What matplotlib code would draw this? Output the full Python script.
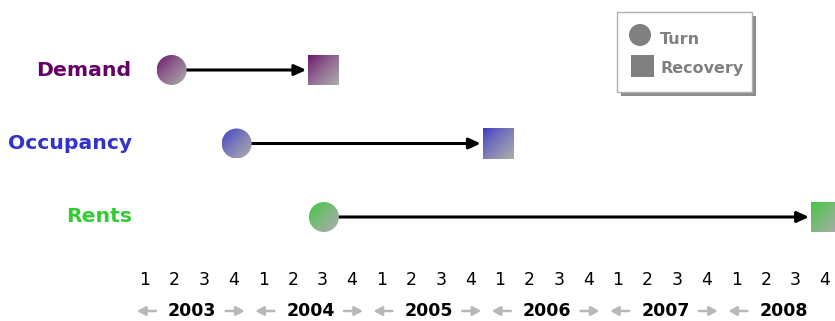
import numpy as np
import matplotlib
matplotlib.use("Agg")
import matplotlib.pyplot as plt
from matplotlib.patches import Ellipse, Rectangle
from matplotlib.colors import to_rgb

# Indicators and their turn / recovery points, in quarters from 2003 Q1
indicators = ["Demand", "Occupancy", "Rents"]
turn_q = [0.9, 3.1, 6.05]
recovery_q = [6.05, 11.95, 23.05]
colors = ["#660066", "#3333cc", "#33cc33"]

years = ["2003", "2004", "2005", "2006", "2007", "2008"]
quarters = ["1", "2", "3", "4"]

# Canvas geometry (pixels)
W, H = 835, 321
QPX = 29.57        # pixels per quarter
X0 = 145.0         # pixel position of 2003 Q1
ROW0, ROWPX = 70.0, 73.5   # pixel of first row, pixels per row

fig = plt.figure(figsize=(W / 100., H / 100.), dpi=100)
ax = fig.add_axes([0, 0, 1, 1])
ax.axis('off')
xlim = (-X0 / QPX, (W - X0) / QPX)
ylim = ((H - ROW0) / ROWPX, -ROW0 / ROWPX)


def gradient(color, n=64):
    # diagonal blend: colour at top-left, light grey at bottom-right
    c0 = np.array(to_rgb(color))
    c1 = np.array(to_rgb("#acacac"))
    t = np.add.outer(np.linspace(0, 1, n), np.linspace(0, 1, n)) / 2.0
    t = t ** 0.7
    return c0[None, None, :] * (1 - t[..., None]) + c1[None, None, :] * t[..., None]


def marker(x, y, color, shape, size_px):
    hx = size_px / 2.0 / QPX
    hy = size_px / 2.0 / ROWPX
    im = ax.imshow(gradient(color), extent=(x - hx, x + hx, y + hy, y - hy),
                   origin='upper', aspect='auto', interpolation='bilinear', zorder=3)
    if shape == 'circle':
        clip = Ellipse((x, y), 2 * hx, 2 * hy, transform=ax.transData)
    else:
        clip = Rectangle((x - hx, y - hy), 2 * hx, 2 * hy, transform=ax.transData)
    im.set_clip_path(clip)
    return hx


for r, (name, tq, rq, c) in enumerate(zip(indicators, turn_q, recovery_q, colors)):
    ax.text(-0.45, r, name, ha='right', va='center', color=c,
            fontsize=14.7, fontweight='bold', family='DejaVu Sans')
    marker(tq, r, c, 'circle', 30)
    hs = marker(rq, r, c, 'square', 31)
    ax.annotate("", xy=(rq - hs, r), xytext=(tq, r),
                arrowprops=dict(arrowstyle='-|>,head_length=0.7,head_width=0.32',
                                color='black', lw=2.2, shrinkA=0, shrinkB=1.5,
                                mutation_scale=10), zorder=2)

# Quarter and year axis labels
yq = (280 - ROW0) / ROWPX
yy = (311 - ROW0) / ROWPX
for i, yr in enumerate(years):
    for j, q in enumerate(quarters):
        ax.text(4 * i + j, yq, q, ha='center', va='center', fontsize=12.5,
                color='black', family='DejaVu Sans')
    ax.text(4 * i + 1.6, yy, yr, ha='center', va='center', fontsize=12.5,
            fontweight='bold', color='black', family='DejaVu Sans')
    for xa, d in ((4 * i + 0.05, -1), (4 * i + 3.05, 1)):
        ax.annotate("", xy=(xa + d * 0.32, yy), xytext=(xa - d * 0.32, yy),
                    arrowprops=dict(arrowstyle='-|>,head_length=0.55,head_width=0.3',
                                    color='#b8b8b8', lw=1.8, shrinkA=0, shrinkB=0,
                                    mutation_scale=9))

# Legend box with drop shadow
bx0, bx1, by0, by1 = 617 / W, 752 / W, 1 - 92 / H, 1 - 12 / H
ax.add_patch(Rectangle((bx0 + 4 / W, by0 - 4 / H), bx1 - bx0, by1 - by0,
                       transform=ax.transAxes, facecolor='#8c8c8c',
                       edgecolor='none', zorder=4))
ax.add_patch(Rectangle((bx0, by0), bx1 - bx0, by1 - by0, transform=ax.transAxes,
                       facecolor='white', edgecolor='#b0b0b0', lw=1, zorder=5))
ax.add_patch(Ellipse((640 / W, 1 - 35 / H), 22 / W, 22 / H, transform=ax.transAxes,
                     facecolor='#808080', edgecolor='none', zorder=6))
ax.add_patch(Rectangle((631 / W, 1 - 77 / H), 23 / W, 22 / H, transform=ax.transAxes,
                       facecolor='#808080', edgecolor='none', zorder=6))
ax.text(660 / W, 1 - 40 / H, "Turn", transform=ax.transAxes, ha='left', va='center',
        fontsize=11.5, fontweight='bold', color='#808080', zorder=7)
ax.text(660 / W, 1 - 69 / H, "Recovery", transform=ax.transAxes, ha='left', va='center',
        fontsize=11.5, fontweight='bold', color='#808080', zorder=7)

ax.set_xlim(*xlim)
ax.set_ylim(*ylim)

plt.savefig("out.png", dpi=100)
